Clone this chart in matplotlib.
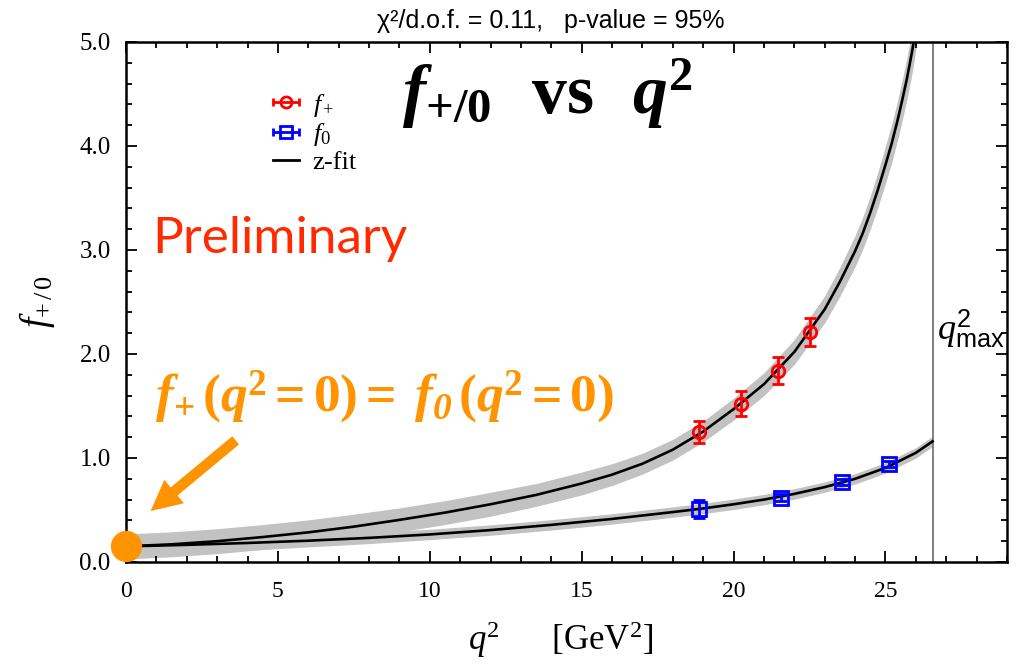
import numpy as np
import matplotlib
matplotlib.use('Agg')
import matplotlib.pyplot as plt
from matplotlib.ticker import MultipleLocator, FormatStrFormatter

plt.rcParams.update({
    'font.family': ['Liberation Serif', 'DejaVu Serif'],
    'mathtext.fontset': 'custom',
    'mathtext.rm': 'Liberation Serif',
    'mathtext.it': 'Liberation Serif:italic',
    'mathtext.bf': 'Liberation Serif:bold',
    'mathtext.bfit': 'Liberation Serif:bold:italic',
    'mathtext.sf': 'Liberation Sans',
})

# ---------------- data ----------------
fplus_q2 = [18.87, 20.26, 21.47, 22.53]
fplus_val = [1.25, 1.52, 1.84, 2.21]
fplus_err = [0.11, 0.12, 0.13, 0.135]

fzero_q2 = [18.87, 21.57, 23.58, 25.13]
fzero_val = [0.51, 0.62, 0.77, 0.94]
fzero_err = [0.09, 0.03, 0.03, 0.03]

fit_plus_q2 = [0.0, 1.5, 3.0, 4.5, 6.0, 7.5, 9.0, 10.5, 12.0, 13.5, 15.0, 16.0,
               17.0, 18.0, 19.0, 20.0, 21.0, 22.0, 23.0, 23.5, 24.0, 24.25, 24.5,
               24.75, 25.0, 25.2, 25.4, 25.55, 25.7, 25.8, 25.9, 26.1]
fit_plus = [0.15, 0.17, 0.20, 0.24, 0.285, 0.34, 0.405, 0.475, 0.555, 0.645, 0.755, 0.84,
            0.945, 1.08, 1.255, 1.47, 1.71, 2.02, 2.43, 2.695, 2.99, 3.16, 3.36,
            3.58, 3.82, 4.02, 4.25, 4.44, 4.64, 4.79, 4.95, 5.35]
fit_plus_err = [0.12, 0.12, 0.12, 0.12, 0.12, 0.12, 0.115, 0.115, 0.115, 0.11, 0.11, 0.105,
                0.10, 0.10, 0.10, 0.105, 0.11, 0.12, 0.13, 0.14, 0.15, 0.155, 0.16,
                0.17, 0.18, 0.185, 0.19, 0.195, 0.20, 0.205, 0.21, 0.22]

fit_zero_q2 = [0.0, 2.0, 4.0, 6.0, 8.0, 10.0, 12.0, 14.0, 16.0, 18.0, 19.0, 20.0,
               21.0, 22.0, 23.0, 24.0, 25.0, 26.0, 26.55]
fit_zero = [0.15, 0.165, 0.183, 0.205, 0.232, 0.265, 0.307, 0.357, 0.414, 0.48, 0.515, 0.555,
            0.60, 0.655, 0.72, 0.80, 0.905, 1.05, 1.16]
fit_zero_err = [0.10, 0.085, 0.07, 0.06, 0.055, 0.05, 0.05, 0.05, 0.05, 0.05, 0.05, 0.05,
                0.05, 0.05, 0.05, 0.05, 0.05, 0.05, 0.05]

q2_max = 26.55
f_at_zero = 0.15

x_ticks = [0, 5, 10, 15, 20, 25]
y_ticks = [0.0, 1.0, 2.0, 3.0, 4.0, 5.0]

# ---------------- figure ----------------
W, H = 1022, 666
fig = plt.figure(figsize=(W / 100, H / 100), dpi=100)
ax = fig.add_axes([126 / W, 1 - 562 / H, (1007 - 126) / W, (562 - 42) / H])

def fx(px):
    return px / W

def fy(py):
    return 1 - py / H

band_col = '#c2c2c2'
fp_q = np.array(fit_plus_q2); fp = np.array(fit_plus); fpe = np.array(fit_plus_err)
fz_q = np.array(fit_zero_q2); fz = np.array(fit_zero); fze = np.array(fit_zero_err)

ax.fill_between(fp_q, fp - fpe, fp + fpe, color=band_col, lw=0, zorder=1)
ax.fill_between(fz_q, fz - fze, fz + fze, color=band_col, lw=0, zorder=1)
ax.plot(fp_q, fp, color='black', lw=1.9, zorder=3, solid_joinstyle='round')
ax.plot(fz_q, fz, color='black', lw=1.9, zorder=3, solid_joinstyle='round')

ax.axvline(q2_max, color='#808080', lw=1.4, zorder=2)

ax.errorbar(fplus_q2, fplus_val, yerr=fplus_err, fmt='o', ms=9, mfc='none',
            mec='red', mew=2, ecolor='red', elinewidth=2, capsize=4, capthick=2, zorder=5)
ax.errorbar(fzero_q2, fzero_val, yerr=fzero_err, fmt='s', ms=10, mfc='none',
            mec='blue', mew=2, ecolor='blue', elinewidth=2, capsize=4, capthick=2, zorder=5)

# legend handles (horizontal error bars, as in the reference)
h1 = ax.errorbar([np.nan], [np.nan], xerr=[np.nan], fmt='o', ms=8, mfc='none', mec='red',
                 mew=2, ecolor='red', elinewidth=2, capsize=3, capthick=2, label=r'$f_+$')
h2 = ax.errorbar([np.nan], [np.nan], xerr=[np.nan], fmt='s', ms=8, mfc='none', mec='blue',
                 mew=2, ecolor='blue', elinewidth=2, capsize=3, capthick=2, label=r'$f_0$')
h3, = ax.plot([], [], color='black', lw=2, label='z-fit')
ax.legend(handles=[h1, h2, h3], loc='upper left', bbox_to_anchor=(0.155, 0.925),
          frameon=False, fontsize=19, handlelength=1.0, handletextpad=0.5,
          labelspacing=0.1, borderaxespad=0)

# orange point and arrow
ax.plot([0], [f_at_zero], 'o', ms=22.5, color='#ff9400', mec='none', clip_on=False, zorder=10)
ax.annotate('', xy=(0.81, 0.49), xytext=(3.61, 1.17),
            arrowprops=dict(arrowstyle='simple,head_length=1.1,head_width=1.1,tail_width=0.38',
                            mutation_scale=20, color='#ff9400', lw=0,
                            shrinkA=0, shrinkB=0), zorder=9)

ax.set_xlim(0, 29)
ax.set_ylim(0, 5)
ax.set_xticks(x_ticks)
ax.set_yticks(y_ticks)
ax.xaxis.set_minor_locator(MultipleLocator(1))
ax.yaxis.set_minor_locator(MultipleLocator(0.2))
ax.yaxis.set_major_formatter(FormatStrFormatter('%.1f'))
ax.tick_params(which='both', direction='in', top=True, right=True, width=1.3)
ax.tick_params(which='major', length=8)
ax.tick_params(which='minor', length=4)
ax.tick_params(axis='y', labelsize=18, pad=11)
ax.tick_params(axis='x', labelsize=17, pad=14)
for s in ax.spines.values():
    s.set_linewidth(1.8)

ax.set_ylabel(r'$f_{+\,/\,0}$', fontsize=27)
ax.yaxis.set_label_coords(-0.078, 0.50)
ax.set_xlabel(r'$q^2$' + '      [GeV$^2$]', fontsize=25)
ax.xaxis.set_label_coords(0.493, -0.11)

# texts
fig.text(fx(551), fy(28), 'χ²/d.o.f. = 0.11,   p-value = 95%', family='Liberation Sans',
         fontsize=18, ha='center', va='baseline')
fig.text(fx(547), fy(114),
         r'$\mathbfit{f}_{\mathbf{+/0}}\enspace\;\mathbf{vs}\enspace\;\mathbfit{q}^{\mathbf{2}}$',
         fontsize=50, ha='center', va='baseline')
fig.text(fx(152), fy(253), 'Preliminary', family='Lato', fontsize=37, color='#ff2a00',
         ha='left', va='baseline')
fig.text(fx(155), fy(411),
         r'$\mathbfit{f}_{\mathbf{+}}\,\mathbf{(}\mathbfit{q}^{\mathbf{2}}\mathbf{=0)=}\;'
         r'\mathbfit{f}_{\mathbfit{0}}\,\mathbf{(}\mathbfit{q}^{\mathbf{2}}\mathbf{=0)}$',
         fontsize=38.5, color='#ff9400', ha='left', va='baseline')
fig.text(fx(937), fy(340), r'$q^{\mathsf{2}}_{\mathsf{max}}$', fontsize=26,
         ha='left', va='baseline')

fig.savefig('out.png', dpi=100)
